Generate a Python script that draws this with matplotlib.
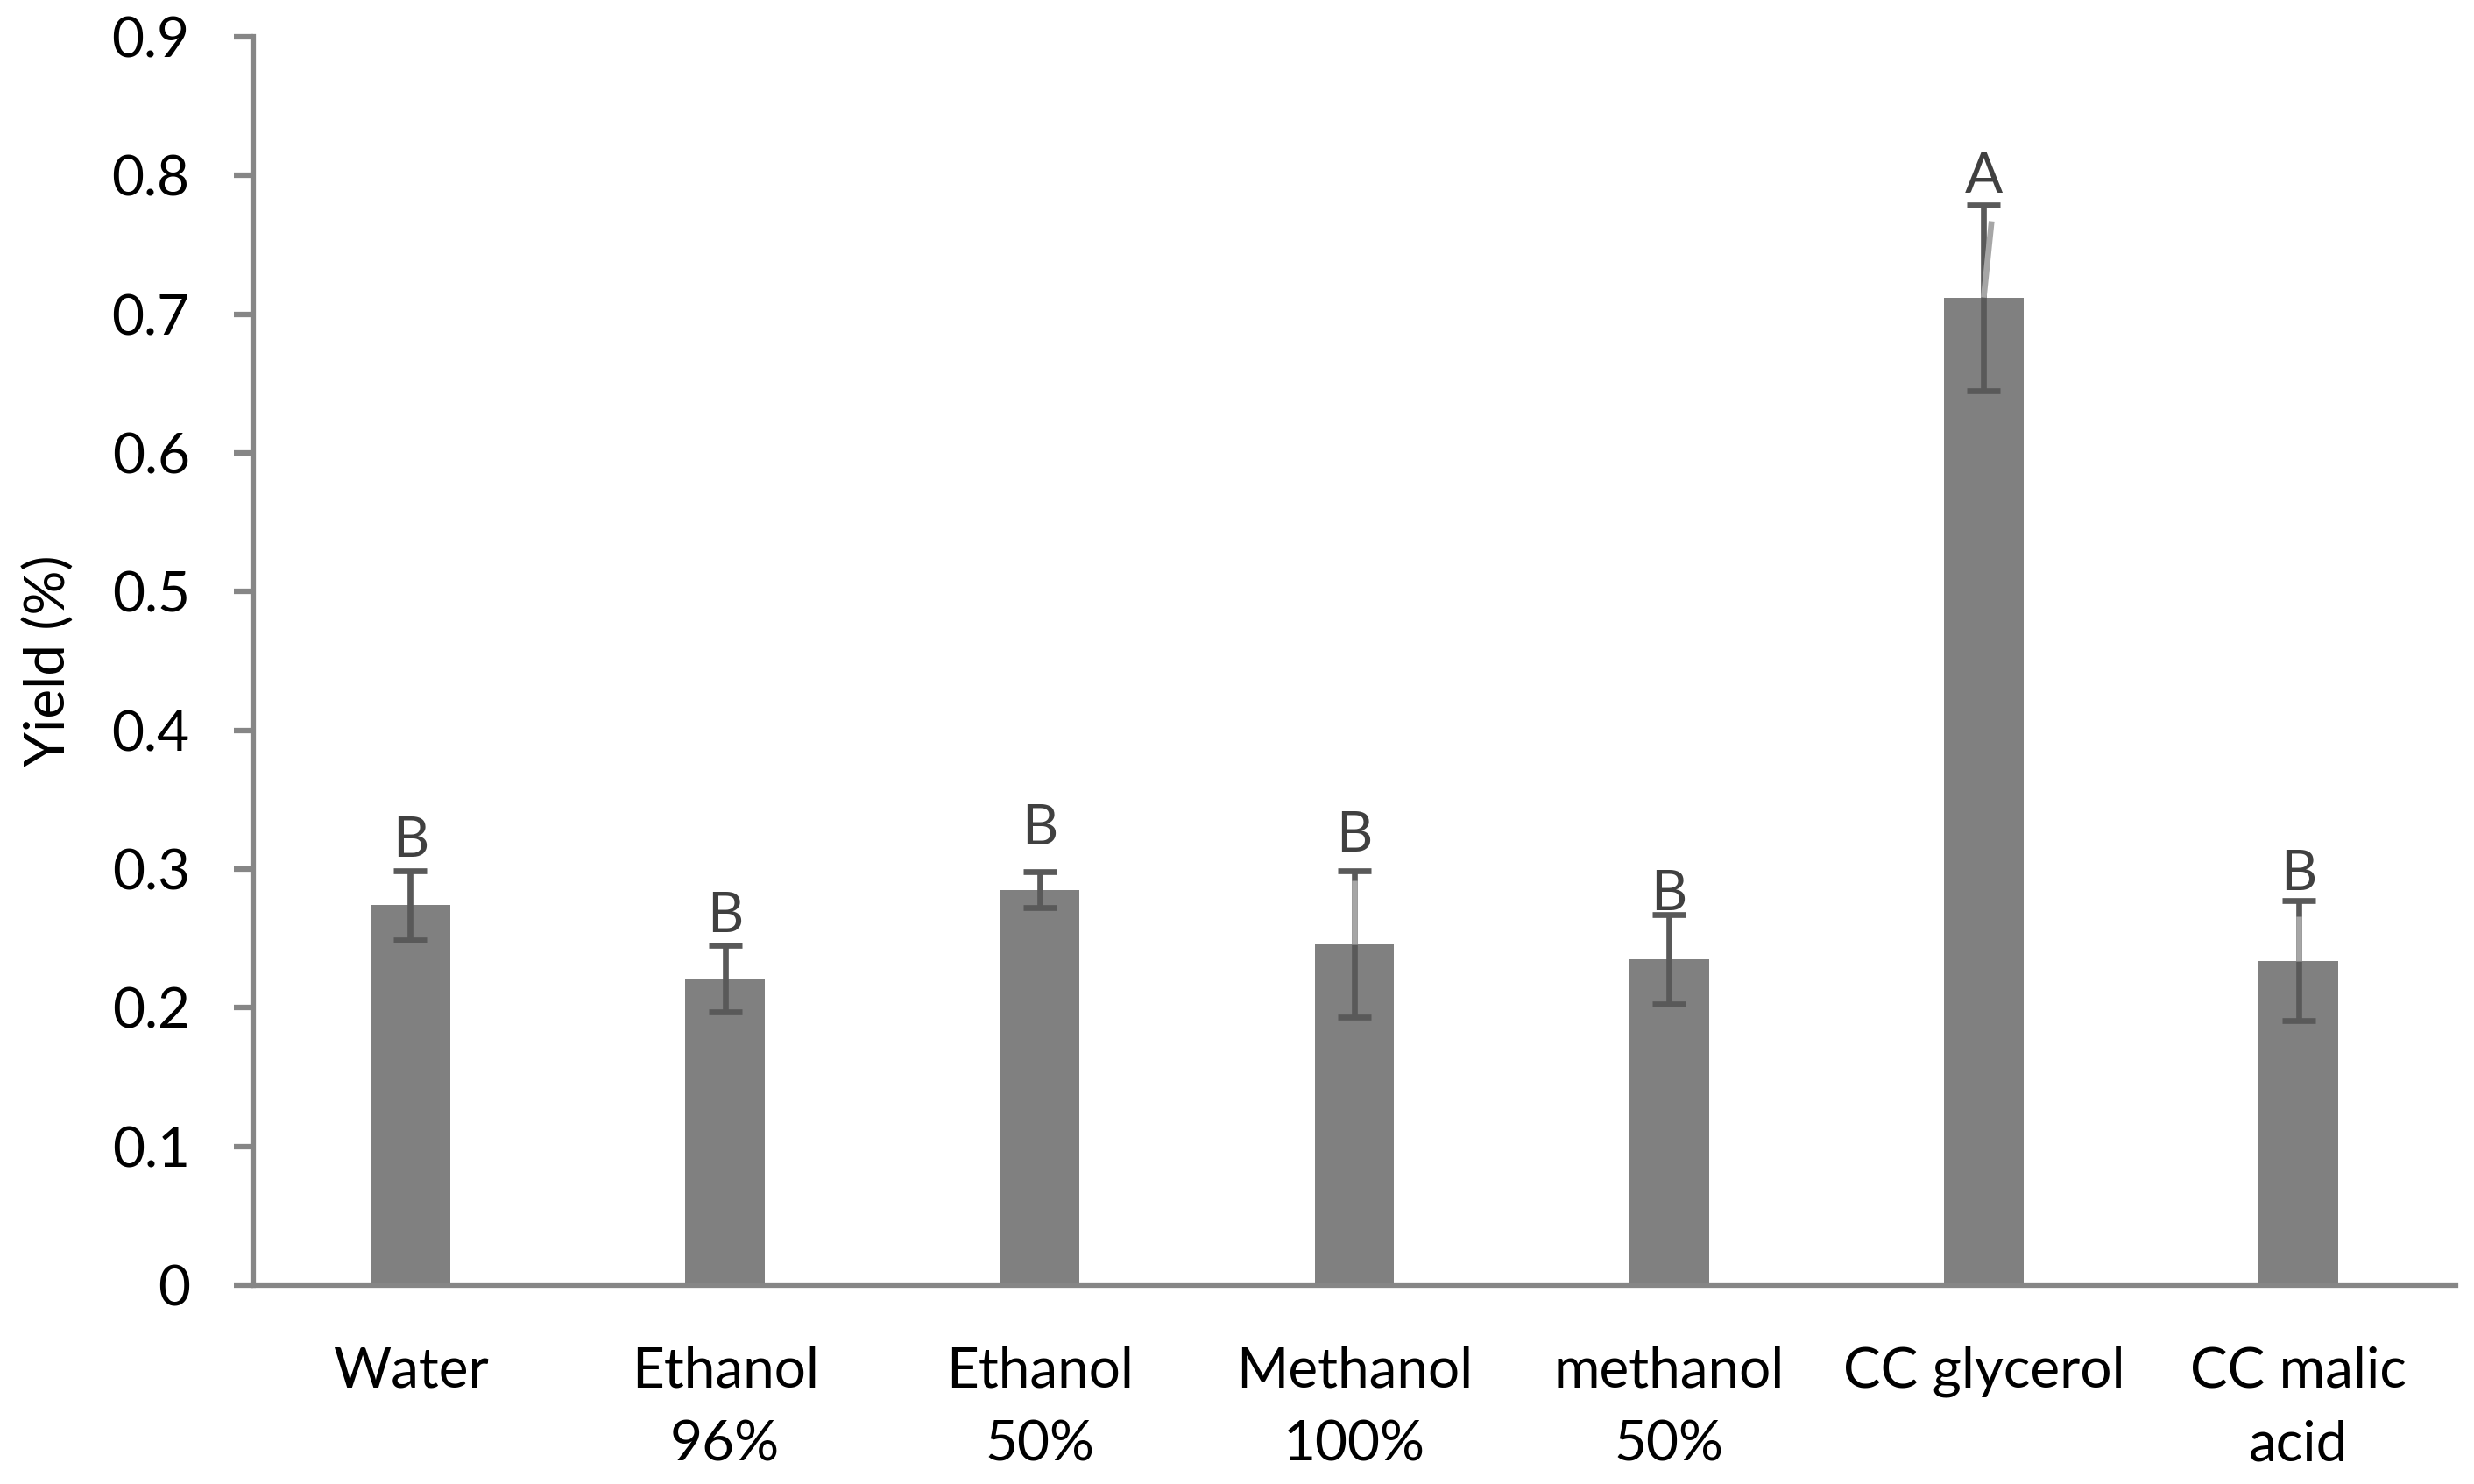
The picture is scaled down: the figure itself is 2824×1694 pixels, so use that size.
import matplotlib.pyplot as plt
import numpy as np

plt.rcParams["font.family"] = ["Lato", "DejaVu Sans"]
plt.rcParams["font.size"] = 46

categories = ["Water", "Ethanol\n96%", "Ethanol\n50%", "Methanol\n100%",
              "methanol\n50%", "CC glycerol", "CC malic\nacid"]
yields = [0.274, 0.221, 0.285, 0.246, 0.235, 0.712, 0.234]
errors = [0.025, 0.024, 0.013, 0.053, 0.032, 0.067, 0.043]
letters = ["B", "B", "B", "B", "B", "A", "B"]
letter_y = [0.320, 0.266, 0.329, 0.324, 0.282, 0.799, 0.296]
# second (light) error line drawn over some bars: (x offset, top value)
light_lines = {3: (0.0, 0.292), 5: (0.025, 0.767), 6: (0.0, 0.266)}

BAR = "#808080"
ERR = "#595959"
LIGHT = "#a6a6a6"
AXIS = "#868686"

fig = plt.figure(figsize=(28.24, 16.94), dpi=100)
ax = fig.add_axes([0.1023, 0.134, 0.8903, 0.8412])

x = np.arange(len(categories))
ax.bar(x, yields, width=0.253, color=BAR, zorder=1)
ax.errorbar(x, yields, yerr=errors, fmt="none", ecolor=ERR, elinewidth=4.8,
            capsize=13.7, capthick=4.8, zorder=3)

for i, (dx, top) in light_lines.items():
    ax.plot([x[i], x[i] + dx], [yields[i], top], color=LIGHT, lw=4.8,
            solid_capstyle="butt", zorder=4)

for i, lab in enumerate(letters):
    ax.text(x[i], letter_y[i], lab, ha="center", va="center", color="#404040",
            fontsize=46, zorder=5)

ax.set_xlim(-0.5, len(categories) - 0.5)
ax.set_ylim(0, 0.9)
yt = np.round(np.arange(0, 0.91, 0.1), 1)
ax.set_yticks(yt)
ax.set_yticklabels(["0"] + [f"{v:.1f}" for v in yt[1:]])
ax.set_xticks(x)
ax.set_xticklabels(categories, linespacing=1.55)

for side in ["top", "right"]:
    ax.spines[side].set_visible(False)
for side in ["left", "bottom"]:
    ax.spines[side].set_color(AXIS)
    ax.spines[side].set_linewidth(4.5)
ax.tick_params(axis="y", length=16, width=4.5, color=AXIS, pad=36)
ax.tick_params(axis="x", length=0, pad=50)

ax.set_ylabel("Yield (%)", labelpad=30)

fig.savefig("out.png", dpi=100)
